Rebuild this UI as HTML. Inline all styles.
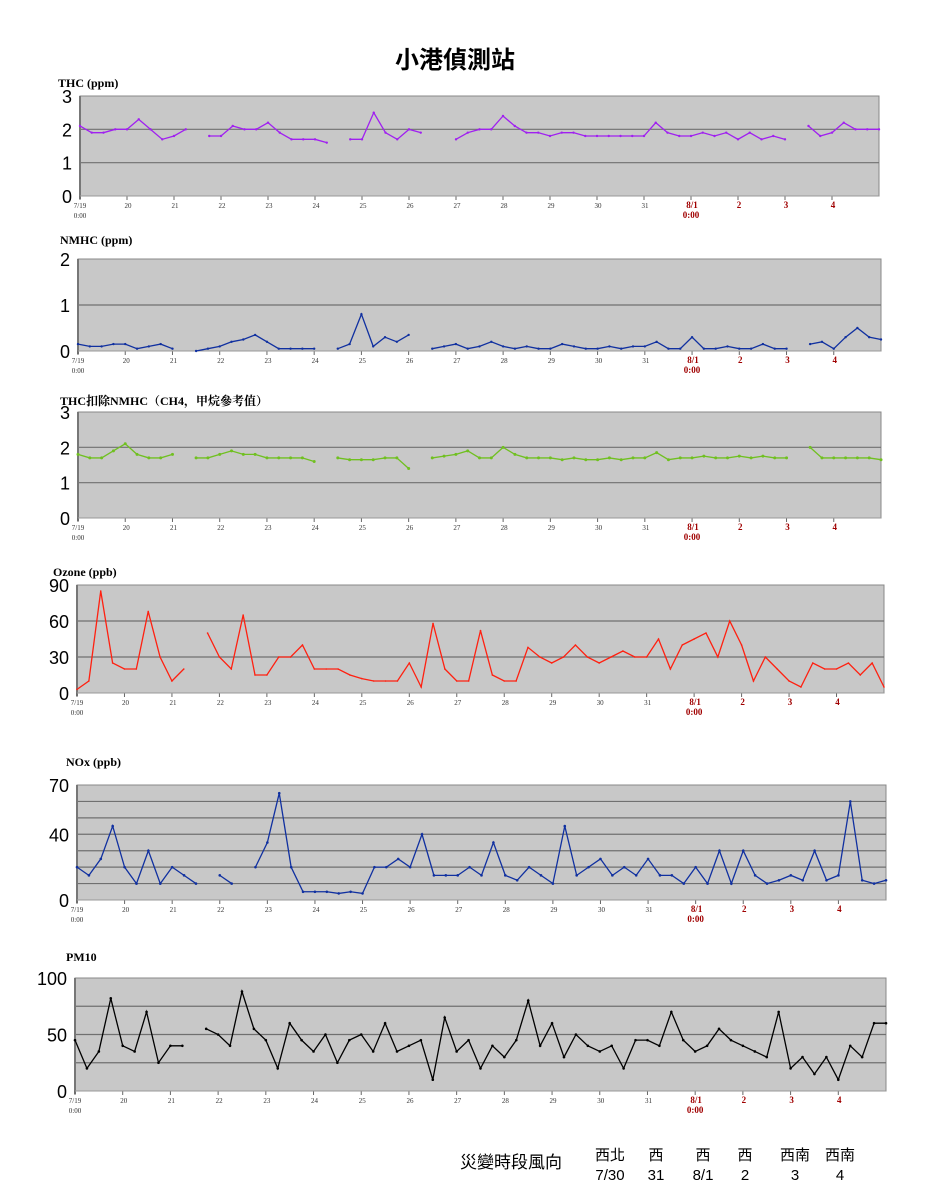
<!DOCTYPE html>
<html><head><meta charset="utf-8"><style>
body{margin:0;background:#fff;width:933px;height:1200px;position:relative;overflow:hidden;font-family:"Liberation Sans","Noto Sans CJK TC",sans-serif}
.t{position:absolute;font-family:"Liberation Serif","Noto Serif CJK SC",serif;font-weight:bold;font-size:12px}
.b{position:absolute;font-size:15px;text-align:center;line-height:20px}
</style></head><body>
<div style="position:absolute;left:0;width:910px;top:40px;text-align:center;font-size:24px;font-weight:bold;font-family:'Liberation Sans','Noto Sans CJK TC',sans-serif">小港偵測站</div>
<svg id="c" width="933" height="1200" style="position:absolute;left:0;top:0"></svg>
<div class="b" style="left:460px;top:1153px;font-size:17px">災變時段風向</div>
<div class="b" style="left:590px;top:1146px;width:40px">西北<br>7/30</div>
<div class="b" style="left:636px;top:1146px;width:40px">西<br>31</div>
<div class="b" style="left:683px;top:1146px;width:40px">西<br>8/1</div>
<div class="b" style="left:725px;top:1146px;width:40px">西<br>2</div>
<div class="b" style="left:775px;top:1146px;width:40px">西南<br>3</div>
<div class="b" style="left:820px;top:1146px;width:40px">西南<br>4</div>
<script>
const days=["7/19","20","21","22","23","24","25","26","27","28","29","30","31","8/1","2","3","4"];
const thc=[2.1,1.9,1.9,2.0, 2.0,2.3,2.0,1.7, 1.8,2.0,null,1.8, 1.8,2.1,2.0,2.0, 2.2,1.9,1.7,1.7, 1.7,1.6,null,1.7, 1.7,2.5,1.9,1.7, 2.0,1.9,null,null, 1.7,1.9,2.0,2.0, 2.4,2.1,1.9,1.9, 1.8,1.9,1.9,1.8, 1.8,1.8,1.8,1.8, 1.8,2.2,1.9,1.8, 1.8,1.9,1.8,1.9, 1.7,1.9,1.7,1.8, 1.7,null,2.1,1.8, 1.9,2.2,2.0,2.0, 2.0];
const nmhc=[0.15,0.1,0.1,0.15, 0.15,0.05,0.1,0.15, 0.05,null,0.0,0.05, 0.1,0.2,0.25,0.35, 0.2,0.05,0.05,0.05, 0.05,null,0.05,0.15, 0.8,0.1,0.3,0.2, 0.35,null,0.05,0.1, 0.15,0.05,0.1,0.2, 0.1,0.05,0.1,0.05, 0.05,0.15,0.1,0.05, 0.05,0.1,0.05,0.1, 0.1,0.2,0.05,0.05, 0.3,0.05,0.05,0.1, 0.05,0.05,0.15,0.05, 0.05,null,0.15,0.2, 0.05,0.3,0.5,0.3, 0.25];
const ch4=[1.8,1.7,1.7,1.9, 2.1,1.8,1.7,1.7, 1.8,null,1.7,1.7, 1.8,1.9,1.8,1.8, 1.7,1.7,1.7,1.7, 1.6,null,1.7,1.65, 1.65,1.65,1.7,1.7, 1.4,null,1.7,1.75, 1.8,1.9,1.7,1.7, 2.0,1.8,1.7,1.7, 1.7,1.65,1.7,1.65, 1.65,1.7,1.65,1.7, 1.7,1.85,1.65,1.7, 1.7,1.75,1.7,1.7, 1.75,1.7,1.75,1.7, 1.7,null,2.0,1.7, 1.7,1.7,1.7,1.7, 1.65];
const ozone=[3,10,85,25, 20,20,68,30, 10,20,null,50, 30,20,65,15, 15,30,30,40, 20,20,20,15, 12,10,10,10, 25,5,58,20, 10,10,52,15, 10,10,38,30, 25,30,40,30, 25,30,35,30, 30,45,20,40, 45,50,30,60, 40,10,30,20, 10,5,25,20, 20,25,15,25, 5];
const nox=[20,15,25,45, 20,10,30,10, 20,15,10,null, 15,10,null,20, 35,65,20,5, 5,5,4,5, 4,20,20,25, 20,40,15,15, 15,20,15,35, 15,12,20,15, 10,45,15,20, 25,15,20,15, 25,15,15,10, 20,10,30,10, 30,15,10,12, 15,12,30,12, 15,60,12,10, 12];
const pm10=[45,20,35,82, 40,35,70,25, 40,40,null,55, 50,40,88,55, 45,20,60,45, 35,50,25,45, 50,35,60,35, 40,45,10,65, 35,45,20,40, 30,45,80,40, 60,30,50,40, 35,40,20,45, 45,40,70,45, 35,40,55,45, 40,35,30,70, 20,30,15,30, 10,40,30,60, 60];
const panels=[
{id:"thc",title:"THC (ppm)",tx:58,ty:76,x0:80,x1:879,y0:96,y1:196,max:3,grid:[1,2],labels:[0,1,2,3],data:thc,color:"#a020f0",mark:1.2},
{id:"nmhc",title:"NMHC (ppm)",tx:60,ty:233,x0:78,x1:881,y0:259,y1:351,max:2,grid:[1],labels:[0,1,2],data:nmhc,color:"#1030a0",mark:1.2},
{id:"ch4",title:"THC扣除NMHC（CH4，甲烷參考值）",tx:60,ty:392,x0:78,x1:881,y0:412,y1:518,max:3,grid:[1,2],labels:[0,1,2,3],data:ch4,color:"#70c020",mark:1.5},
{id:"ozone",title:"Ozone (ppb)",tx:53,ty:565,x0:77,x1:884,y0:585,y1:693,max:90,grid:[30,60],labels:[0,30,60,90],data:ozone,color:"#ff2010",mark:0.8},
{id:"nox",title:"NOx (ppb)",tx:66,ty:755,x0:77,x1:886,y0:785,y1:900,max:70,grid:[10,20,30,40,50,60],labels:[0,40,70],data:nox,color:"#1030a0",mark:1.3},
{id:"pm10",title:"PM10",tx:66,ty:950,x0:75,x1:886,y0:978,y1:1091,max:100,grid:[25,50,75],labels:[0,50,100],data:pm10,color:"#000",mark:1.3}];
const svg=document.getElementById("c");const NS="http://www.w3.org/2000/svg";
function mk(t,a,p){const e=document.createElementNS(NS,t);for(const k in a)e.setAttribute(k,a[k]);(p||svg).appendChild(e);return e;}
panels.forEach(P=>{
  const g=mk("g",{});
  
  
  const xs=d=>P.x0+(d/17)*(P.x1-P.x0);
  const ys=v=>P.y1-(v/P.max)*(P.y1-P.y0);
  const tt=document.createElement("div");tt.className="t";tt.style.left=P.tx+"px";tt.style.top=P.ty+"px";tt.textContent=P.title;
  
  
  document.body.appendChild(tt);
  const bg=mk("rect",{x:P.x0,y:P.y0,width:P.x1-P.x0,height:P.y1-P.y0,fill:"#c8c8c8",stroke:"#888","stroke-width":1},g);
  
  
  P.grid.forEach(v=>{const l=mk("line",{x1:P.x0,x2:P.x1,y1:ys(v),y2:ys(v),stroke:"#707070","stroke-width":1.2},g);
    
    });
  mk("line",{x1:P.x0,x2:P.x0,y1:P.y0,y2:P.y1+3,stroke:"#777","stroke-width":2},g);
  P.labels.forEach(v=>{const t=mk("text",{x:P.x0-8,y:ys(v)+7,"text-anchor":"end","font-size":18,fill:"#000","font-family":"Liberation Sans, sans-serif"},g);t.textContent=v;
    
    });
  days.forEach((d,i)=>{const x=xs(i);mk("line",{x1:x,x2:x,y1:P.y1,y2:P.y1+4,stroke:"#666"},g);
    const red=i>=13;const t=mk("text",{x:i==0?x:x+1,y:P.y1+12,"text-anchor":"middle","font-size":red?9:7,fill:red?"#a00000":"#333","font-weight":red?"bold":"normal","font-family":"Liberation Serif, serif"},g);
    t.textContent=d;
    
    
    if(i==0||i==13){const t2=mk("text",{x:x,y:P.y1+22,"text-anchor":"middle","font-size":i?9:7,fill:i?"#a00000":"#333","font-weight":i?"bold":"normal","font-family":"Liberation Serif, serif"},g);t2.textContent="0:00";
      
      }
  });
  mk("line",{x1:P.x0,x2:P.x1,y1:P.y1,y2:P.y1,stroke:"#999","stroke-width":1},g);
  let seg=[];const segs=[];
  P.data.forEach((v,i)=>{if(v===null){if(seg.length)segs.push(seg);seg=[];}else seg.push([xs(i/4),ys(v)]);});
  if(seg.length)segs.push(seg);
  segs.forEach(s=>{const pl=mk("polyline",{points:s.map(p=>p.join(",")).join(" "),fill:"none",stroke:P.color,"stroke-width":1.3},g);
    
    
    s.forEach(p=>{const c=mk("circle",{cx:p[0],cy:p[1],r:P.mark,fill:P.color},g);
      
      });});
});
</script>
</body></html>
